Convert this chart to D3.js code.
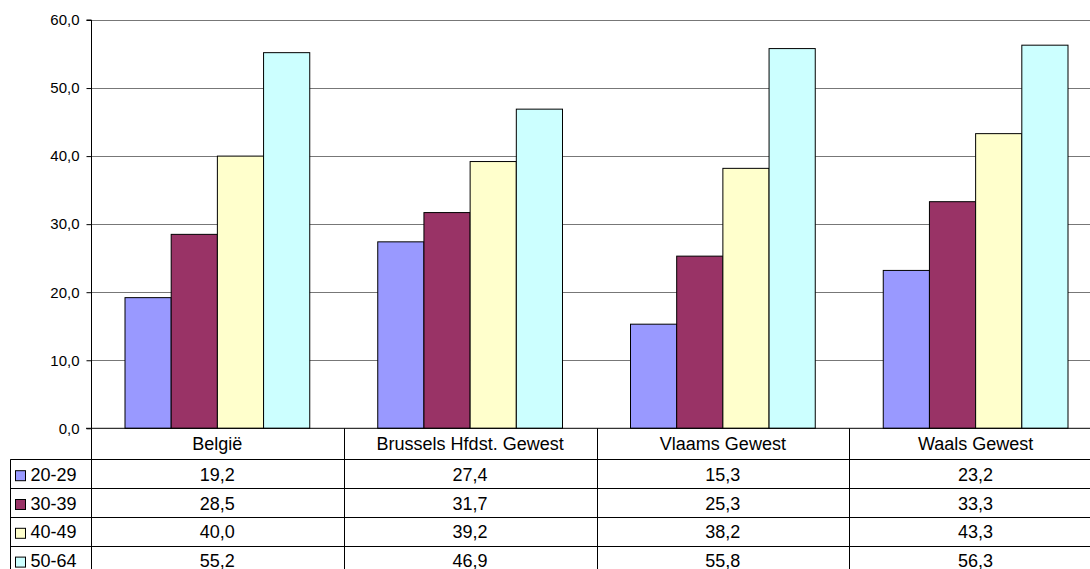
<!DOCTYPE html>
<html>
<head>
<meta charset="utf-8">
<script src="https://cdn.jsdelivr.net/npm/d3@7"></script>
<style>
  html, body { margin: 0; padding: 0; background: #fff; overflow: hidden; }
  svg { display: block; font-family: "Liberation Sans", Arial, sans-serif; }
</style>
</head>
<body>
<svg id="chart" width="1090" height="569"></svg>
<script>
const categories = ["België", "Brussels Hfdst. Gewest", "Vlaams Gewest", "Waals Gewest"];
const seriesNames = ["20-29", "30-39", "40-49", "50-64"];
const s2029 = [19.2, 27.4, 15.3, 23.2];
const s3039 = [28.5, 31.7, 25.3, 33.3];
const s4049 = [40.0, 39.2, 38.2, 43.3];
const s5064 = [55.2, 46.9, 55.8, 56.3];
const yTicks = [0, 10, 20, 30, 40, 50, 60];
const colors = ["#9999FF", "#993366", "#FFFFCC", "#CCFFFF"];

const seriesValues = [s2029, s3039, s4049, s5064];

(function () {
const svg = d3.select("#chart");
const fmt = d3.formatLocale({decimal: ",", thousands: ".", grouping: [3], currency: ["", ""]}).format(".1f");

const pLeft = 91, pRight = 1102, pTop = 20, pBottom = 428.3;
const y = d3.scaleLinear().domain([0, 60]).range([pBottom, pTop]);
const x0 = d3.scaleBand().domain(categories).range([pLeft, pRight]).padding(0);
const bw = x0.bandwidth();
const x1 = d3.scaleBand().domain(seriesNames).range([34, bw - 34]).padding(0);

// gridlines
svg.append("g")
  .selectAll("line")
  .data(yTicks.filter(d => d > 0))
  .join("line")
  .attr("x1", pLeft).attr("x2", 1090)
  .attr("y1", d => Math.round(y(d)) + 0.5).attr("y2", d => Math.round(y(d)) + 0.5)
  .attr("stroke", "#777").attr("stroke-width", 1);

// bars
const barG = svg.append("g");
categories.forEach((c, ci) => {
  seriesNames.forEach((s, si) => {
    const v = seriesValues[si][ci];
    barG.append("rect")
      .attr("x", x0(c) + x1(s))
      .attr("y", y(v))
      .attr("width", x1.bandwidth())
      .attr("height", y(0) - y(v))
      .attr("fill", colors[si])
      .attr("stroke", "#000")
      .attr("stroke-width", 1);
  });
});

// y axis
const yAxis = d3.axisLeft(y).tickValues(yTicks).tickFormat(fmt).tickSize(5).tickPadding(7);
const ag = svg.append("g").attr("transform", `translate(${pLeft + 0.5},0)`).call(yAxis);
ag.select(".domain").attr("stroke", "#000").attr("d", `M-5,${y(60)}H0V${y(0)}`);
ag.selectAll(".tick line").attr("stroke", "#000");
ag.selectAll(".tick text").attr("font-size", 15).attr("fill", "#000")
  .attr("font-family", "Liberation Sans, Arial, sans-serif");

// data table
const rowTop = pBottom;
const catRowH = 31;
const rowH = 28.8;
const rows = d3.scaleBand().domain(seriesNames)
  .range([rowTop + catRowH, rowTop + catRowH + rowH * seriesNames.length]).padding(0);
const legendLeft = 10.5;
const tg = svg.append("g");

tg.append("line").attr("x1", pLeft - 5).attr("x2", 1090)
  .attr("y1", rowTop).attr("y2", rowTop).attr("stroke", "#000");
seriesNames.forEach(s => {
  const yy = Math.round(rows(s)) + 0.5;
  tg.append("line").attr("x1", legendLeft).attr("x2", 1090)
    .attr("y1", yy).attr("y2", yy).attr("stroke", "#000");
});
const lastY = Math.round(rows(seriesNames[seriesNames.length - 1]) + rowH) + 0.5;
tg.append("line").attr("x1", legendLeft).attr("x2", 1090)
  .attr("y1", lastY).attr("y2", lastY).attr("stroke", "#000");

const tableBottom = 600;
tg.append("line").attr("x1", legendLeft).attr("x2", legendLeft)
  .attr("y1", rows(seriesNames[0])).attr("y2", tableBottom).attr("stroke", "#000");
categories.forEach(c => {
  const xx = Math.round(x0(c)) + 0.5;
  tg.append("line").attr("x1", xx).attr("x2", xx)
    .attr("y1", rowTop).attr("y2", tableBottom).attr("stroke", "#000");
});

tg.selectAll("text.cat")
  .data(categories)
  .join("text")
  .attr("class", "cat")
  .attr("x", d => x0(d) + bw / 2)
  .attr("y", rowTop + catRowH / 2 + 6.5)
  .attr("text-anchor", "middle")
  .attr("font-size", 18)
  .attr("fill", "#000")
  .text(d => d);

seriesNames.forEach((s, si) => {
  const cy = rows(s) + rowH / 2;
  tg.append("rect")
    .attr("x", 15.5).attr("y", cy - 3)
    .attr("width", 10).attr("height", 10)
    .attr("fill", colors[si]).attr("stroke", "#000").attr("stroke-width", 1);
  tg.append("text")
    .attr("x", 30.5).attr("y", cy + 7)
    .attr("font-size", 18).attr("fill", "#000")
    .text(s);
  categories.forEach((c, ci) => {
    tg.append("text")
      .attr("x", x0(c) + bw / 2)
      .attr("y", cy + 7)
      .attr("text-anchor", "middle")
      .attr("font-size", 18).attr("fill", "#000")
      .text(fmt(seriesValues[si][ci]));
  });
});
})();
</script>
</body>
</html>
